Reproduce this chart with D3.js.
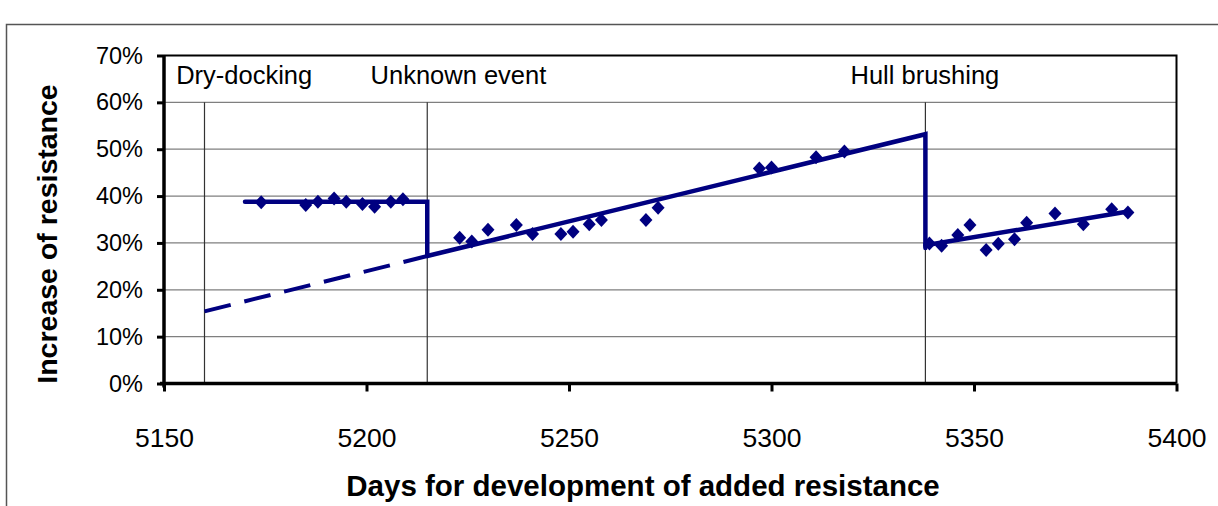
<!DOCTYPE html>
<html>
<head>
<meta charset="utf-8">
<script src="https://cdn.jsdelivr.net/npm/d3@7"></script>
<style>
  body { margin: 0; background: #fff; }
  svg { display: block; font-family: "Liberation Sans", Arial, sans-serif; }
  .tick text { fill: #000; }
</style>
</head>
<body>
<svg id="chart"></svg>
<script>
// measured points
var days = [5174, 5185, 5188, 5192, 5195, 5199, 5202, 5206, 5209,
            5223, 5226, 5230, 5237, 5241, 5248, 5251, 5255, 5258, 5269, 5272,
            5297, 5300, 5311, 5318,
            5339, 5342, 5346, 5349, 5353, 5356, 5360, 5363, 5370, 5377, 5384, 5388];
var resistance = [38.7, 38.1, 38.8, 39.5, 38.8, 38.3, 37.7, 38.8, 39.3,
                  31.1, 30.3, 32.8, 33.8, 31.9, 31.9, 32.4, 34.0, 34.9, 34.9, 37.5,
                  45.9, 46.1, 48.3, 49.5,
                  29.9, 29.4, 31.7, 33.8, 28.5, 29.8, 30.8, 34.3, 36.3, 34.0, 37.2, 36.5];

// fitted levels
var dockDays = [5170, 5215, 5215],  dockLevel = [38.8, 38.8, 27.2];
var foulDays = [5215, 5338, 5338],  foulLevel = [27.2, 53.2, 28.9];
var brushDays = [5338, 5388],       brushLevel = [29.5, 36.7];
var extrapDays = [5160, 5215],      extrapLevel = [15.4, 27.2];

var eventDays = [5160, 5215, 5338];
var eventLabels = ["Dry-docking", "Unknown event", "Hull brushing"];
var labelDays = [5153, 5201, 5319.5];

var xTicks = [5150, 5200, 5250, 5300, 5350, 5400];
var yTicks = [0, 10, 20, 30, 40, 50, 60, 70];

var width = 1218, height = 506;
var margin = {top: 55.5, right: 41.5, bottom: 122.5, left: 164};
var navy = "#000080";

var svg = d3.select("#chart")
    .attr("width", width)
    .attr("height", height);

// outer chart frame
svg.append("rect")
    .attr("x", 6.5).attr("y", 24.5)
    .attr("width", 1300).attr("height", 600)
    .attr("fill", "none")
    .attr("stroke", "#555")
    .attr("stroke-width", 1.5);

var x = d3.scaleLinear().domain([5150, 5400]).range([margin.left, width - margin.right]);
var y = d3.scaleLinear().domain([0, 70]).range([height - margin.bottom, margin.top]);

var g = svg.append("g");

// horizontal grid
g.selectAll(".hgrid")
  .data(yTicks.filter(function(d) { return d > 0 && d < 70; }))
  .enter().append("line")
    .attr("x1", x(5150)).attr("x2", x(5400))
    .attr("y1", function(d) { return y(d); })
    .attr("y2", function(d) { return y(d); })
    .attr("stroke", "#7f7f7f")
    .attr("stroke-width", 1.2);

// top and right border of plot
g.append("path")
    .attr("d", "M" + x(5150) + "," + y(70) + "H" + x(5400) + "V" + y(0))
    .attr("fill", "none")
    .attr("stroke", "#000")
    .attr("stroke-width", 2);

// event lines
g.selectAll(".event")
  .data(eventDays)
  .enter().append("line")
    .attr("x1", function(d) { return x(d); })
    .attr("x2", function(d) { return x(d); })
    .attr("y1", y(0)).attr("y2", y(60))
    .attr("stroke", "#333")
    .attr("stroke-width", 1.2);

g.selectAll(".event-label")
  .data(eventLabels)
  .enter().append("text")
    .attr("x", function(d, i) { return x(labelDays[i]); })
    .attr("y", 84)
    .attr("font-size", 25.5)
    .text(function(d) { return d; });

// axes
var xAxis = d3.axisBottom(x).tickValues(xTicks).tickSize(8).tickPadding(37).tickFormat(d3.format("d"));
var yAxis = d3.axisLeft(y).tickValues(yTicks).tickSize(7).tickPadding(14).tickFormat(function(d) { return d + "%"; });

var xg = svg.append("g")
    .attr("transform", "translate(0," + y(0) + ")")
    .call(xAxis);
var yg = svg.append("g")
    .attr("transform", "translate(" + x(5150) + ",0)")
    .call(yAxis);

xg.selectAll(".tick text").attr("font-size", 26.5);
yg.selectAll(".tick text").attr("font-size", 23.5);

[xg, yg].forEach(function(a) {
  a.select(".domain").attr("stroke", "#000").attr("stroke-width", 3.5);
  a.selectAll(".tick line").attr("stroke", "#000").attr("stroke-width", 3);
});
xg.select(".domain").attr("d", "M" + (x(5150) - 4) + ",0H" + x(5400));
yg.select(".domain").attr("d", "M0," + y(70) + "V" + (y(0) + 4));

// trend lines
var line = d3.line()
    .x(function(d) { return x(d[0]); })
    .y(function(d) { return y(d[1]); });

function pairs(a, b) { return a.map(function(d, i) { return [d, b[i]]; }); }

var plot = svg.append("g");

plot.append("path")
    .attr("d", line(pairs(extrapDays, extrapLevel)))
    .attr("fill", "none").attr("stroke", navy)
    .attr("stroke-width", 4)
    .attr("stroke-dasharray", "27,14");

[[dockDays, dockLevel], [foulDays, foulLevel], [brushDays, brushLevel]].forEach(function(s) {
  plot.append("path")
      .attr("d", line(pairs(s[0], s[1])))
      .attr("fill", "none").attr("stroke", navy)
      .attr("stroke-width", 4.5)
      .attr("stroke-linecap", "round");
});

// measured points as diamonds
plot.selectAll(".pt")
  .data(pairs(days, resistance))
  .enter().append("path")
    .attr("class", "pt")
    .attr("transform", function(d) { return "translate(" + x(d[0]) + "," + y(d[1]) + ")"; })
    .attr("d", "M0,-7L6.5,0L0,7L-6.5,0Z")
    .attr("fill", navy);

// axis titles
svg.append("text")
    .attr("transform", "translate(57,234) rotate(-90)")
    .attr("text-anchor", "middle")
    .attr("font-size", 28.5)
    .attr("font-weight", "bold")
    .text("Increase of resistance");

svg.append("text")
    .attr("x", 643).attr("y", 496)
    .attr("text-anchor", "middle")
    .attr("font-size", 29.5)
    .attr("font-weight", "bold")
    .text("Days for development of added resistance");
</script>
</body>
</html>
